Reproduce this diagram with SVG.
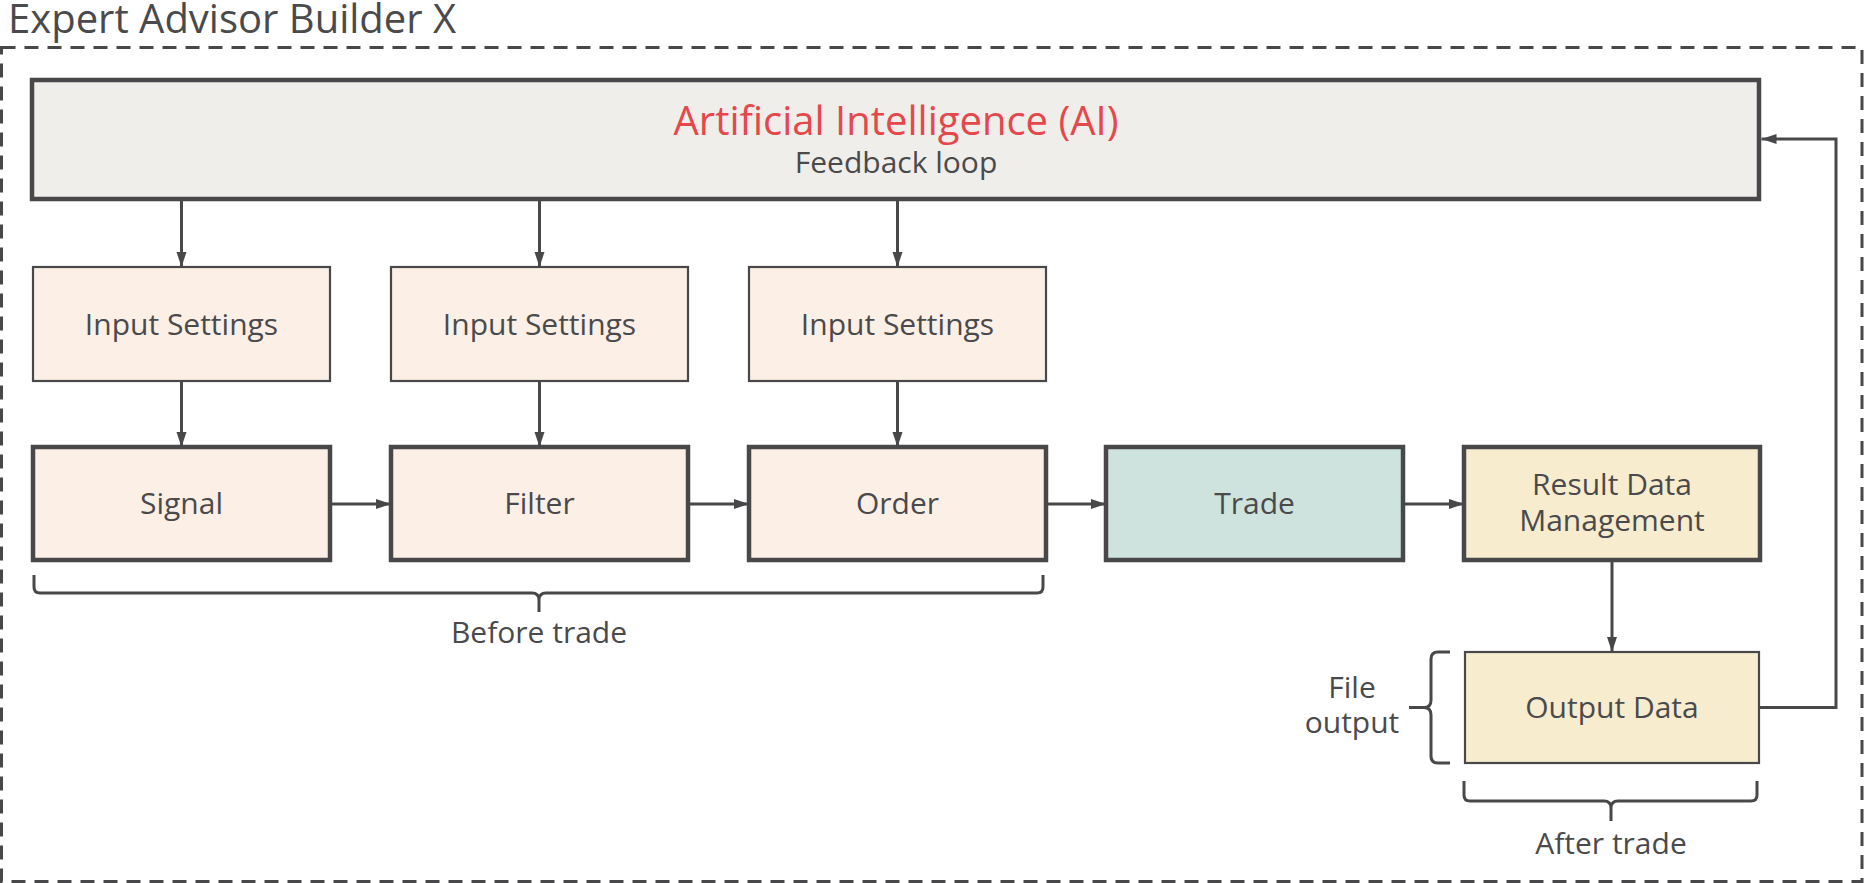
<svg xmlns="http://www.w3.org/2000/svg" width="1864" height="883" viewBox="0 0 1864 883">
<defs>
<marker id="ah" markerUnits="userSpaceOnUse" markerWidth="16" markerHeight="12" refX="15" refY="5" orient="auto">
<path d="M0,0 L15,5 L0,10 z" fill="#48484a"/>
</marker>
<style>
text{font-family:"Open Sans","Noto Sans","Liberation Sans",sans-serif;fill:#4a4a4c;text-anchor:middle}
.t{font-size:30px}
.thick{stroke:#48484a;stroke-width:4.5}
.thin{stroke:#48484a;stroke-width:2.2}
.peach{fill:#fcefe6}
.teal{fill:#cfe3de}
.yel{fill:#f7ecce}
.conn{fill:none;stroke:#48484a;stroke-width:3}
.brace{fill:none;stroke:#48484a;stroke-width:3;stroke-linejoin:round}
</style>
</defs>
<rect x="1.5" y="47.5" width="1860.5" height="834" fill="none" stroke="#48484a" stroke-width="3" stroke-dasharray="14 9"/>
<text x="8" y="33" style="font-size:40px;text-anchor:start">Expert Advisor Builder X</text>

<g id="ai">
<rect x="32" y="80" width="1727" height="119" fill="#efeeea" class="thick"/>
<text x="896" y="135" style="font-size:40px;fill:#e5484b">Artificial Intelligence (AI)</text>
<text x="896" y="173" class="t">Feedback loop</text>
</g>

<g id="input1"><rect x="33" y="267" width="297" height="114" class="peach thin"/><text x="181.5" y="335" class="t">Input Settings</text></g>
<g id="input2"><rect x="391" y="267" width="297" height="114" class="peach thin"/><text x="539.5" y="335" class="t">Input Settings</text></g>
<g id="input3"><rect x="749" y="267" width="297" height="114" class="peach thin"/><text x="897.5" y="335" class="t">Input Settings</text></g>

<g id="signal"><rect x="33" y="447" width="297" height="113" class="peach thick"/><text x="181.5" y="514" class="t">Signal</text></g>
<g id="filter"><rect x="391" y="447" width="297" height="113" class="peach thick"/><text x="539.5" y="514" class="t">Filter</text></g>
<g id="order"><rect x="749" y="447" width="297" height="113" class="peach thick"/><text x="897.5" y="514" class="t">Order</text></g>
<g id="trade"><rect x="1106" y="447" width="297" height="113" class="teal thick"/><text x="1254.5" y="514" class="t">Trade</text></g>
<g id="result"><rect x="1464" y="447" width="296" height="113" class="yel thick"/><text x="1612" y="495" class="t">Result Data</text><text x="1612" y="531" class="t">Management</text></g>
<g id="output"><rect x="1465" y="652" width="294" height="111" class="yel thin"/><text x="1612" y="718" class="t">Output Data</text></g>

<g id="connectors">
<path class="conn" d="M181.5,199 V267" marker-end="url(#ah)"/>
<path class="conn" d="M539.5,199 V267" marker-end="url(#ah)"/>
<path class="conn" d="M897.5,199 V267" marker-end="url(#ah)"/>
<path class="conn" d="M181.5,381 V447" marker-end="url(#ah)"/>
<path class="conn" d="M539.5,381 V447" marker-end="url(#ah)"/>
<path class="conn" d="M897.5,381 V447" marker-end="url(#ah)"/>
<path class="conn" d="M330,504 H391" marker-end="url(#ah)"/>
<path class="conn" d="M688,504 H749" marker-end="url(#ah)"/>
<path class="conn" d="M1046,504 H1106" marker-end="url(#ah)"/>
<path class="conn" d="M1403,504 H1464" marker-end="url(#ah)"/>
<path class="conn" d="M1612,560 V652" marker-end="url(#ah)"/>
<path class="conn" d="M1760,707.5 H1836 V139 H1761.5" marker-end="url(#ah)"/>
</g>

<g id="before-trade">
<path class="brace" d="M34,575 V587 Q34,593 40,593 H532 Q539,593 539,600 V612 M539,600 Q539,593 546,593 H1037 Q1043,593 1043,587 V575"/>
<text x="539" y="643" class="t">Before trade</text>
</g>
<g id="after-trade">
<path class="brace" d="M1464,781 V795 Q1464,801 1470,801 H1604 Q1611,801 1611,808 V821 M1611,808 Q1611,801 1618,801 H1751 Q1757,801 1757,795 V781"/>
<text x="1611" y="854" class="t">After trade</text>
</g>
<g id="file-output">
<path class="brace" d="M1450,652 H1438 Q1431,652 1431,659 V700 Q1431,707.5 1424,707.5 H1409 M1424,707.5 Q1431,707.5 1431,715 V756 Q1431,763 1438,763 H1450"/>
<text x="1352" y="698" class="t">File</text>
<text x="1352" y="733" class="t">output</text>
</g>
</svg>
